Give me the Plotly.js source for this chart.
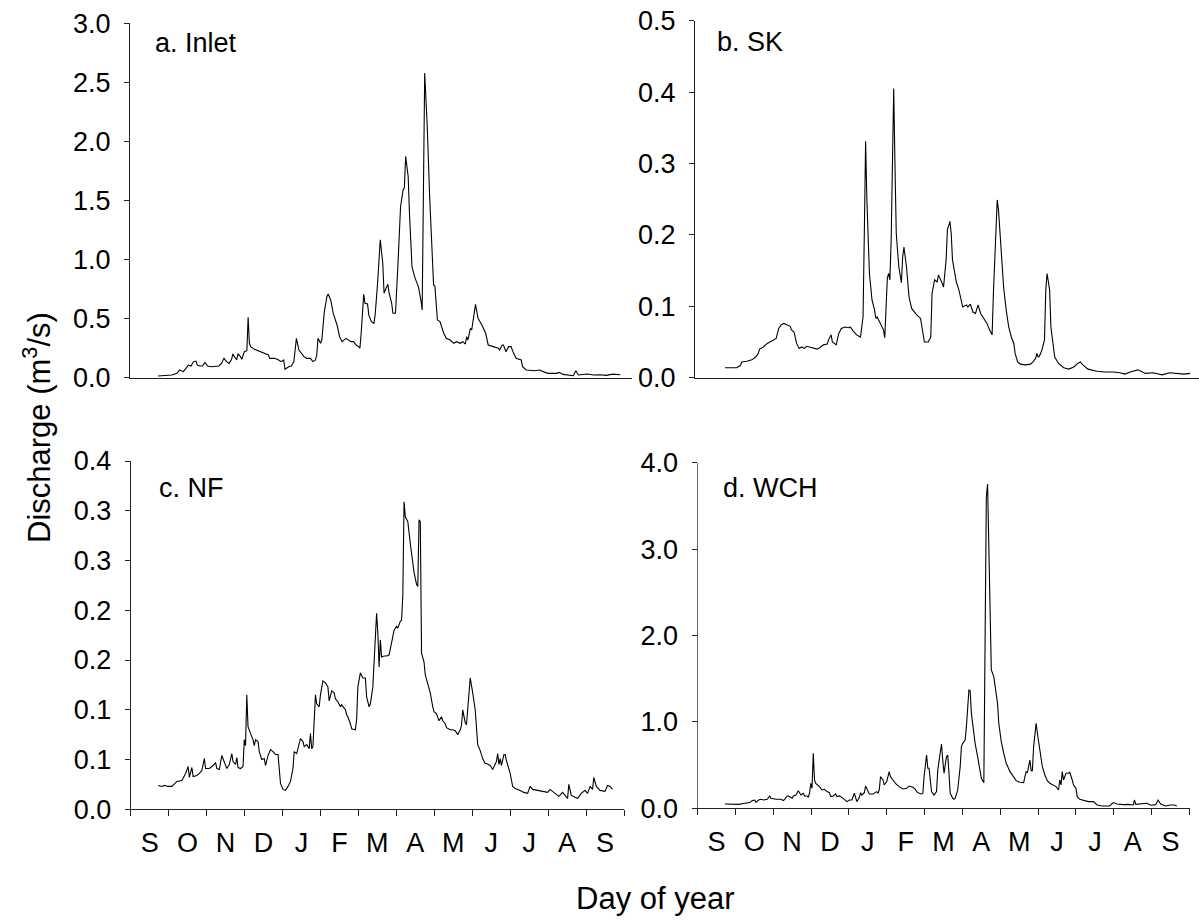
<!DOCTYPE html>
<html>
<head>
<meta charset="utf-8">
<script src="https://cdn.plot.ly/plotly-3.0.1.min.js"></script>
<style>html,body{margin:0;padding:0;background:#fff;}#chart{width:1199px;height:921px;}</style>
</head>
<body>
<div id="chart"></div>
<script>
// ---------------- data (day index from start of axis, discharge m3/s) ----------------
const months = ['S','O','N','D','J','F','M','A','M','J','J','A','S'];
const monthLen = 30.4;

const inletDay = [22,33,37,39,42,44,46,48,50,52,53,55,57,59,61,64,67,70,72,74,76,78,80,81,83,84,85,87,88,90,92,93,94,95,98,102,106,109,110,112,114,117,119,121,122,125,127,129,131,133,135,137,139,142,144,146,147,148,150,151,153,155,156,158,160,163,165,167,170,172,174,176,178,180,181,182,184,185,187,188,190,192,193,195,197,199,200,201,203,204,206,207,209,211,213,215,216,217,219,220,222,224,227,229,230,232,234,236,238,239,240,242,244,247,249,252,255,257,260,262,264,265,266,268,269,270,272,274,277,280,282,286,290,291,293,294,296,298,300,302,304,308,309,312,318,323,324,329,336,338,341,349,351,353,360,365,370,375,380,386];
const inletQ = [0.014,0.023,0.037,0.065,0.051,0.079,0.107,0.099,0.136,0.141,0.107,0.099,0.099,0.130,0.099,0.093,0.093,0.099,0.121,0.164,0.136,0.121,0.155,0.201,0.164,0.155,0.201,0.178,0.155,0.220,0.229,0.511,0.291,0.263,0.240,0.220,0.206,0.192,0.164,0.164,0.164,0.150,0.136,0.150,0.071,0.093,0.099,0.136,0.333,0.234,0.206,0.178,0.164,0.164,0.136,0.150,0.192,0.333,0.291,0.319,0.559,0.686,0.709,0.658,0.545,0.446,0.347,0.305,0.333,0.319,0.305,0.305,0.277,0.263,0.249,0.376,0.706,0.630,0.624,0.531,0.475,0.460,0.531,0.814,1.167,0.969,0.715,0.743,0.791,0.715,0.630,0.545,0.545,0.969,1.449,1.590,1.610,1.873,1.703,1.393,0.941,0.856,0.771,0.658,0.573,2.579,2.127,1.506,0.997,0.785,0.777,0.489,0.475,0.376,0.333,0.319,0.291,0.305,0.291,0.305,0.285,0.347,0.319,0.418,0.404,0.475,0.621,0.503,0.446,0.376,0.277,0.263,0.249,0.234,0.277,0.277,0.220,0.263,0.263,0.206,0.164,0.150,0.093,0.065,0.059,0.065,0.056,0.037,0.037,0.045,0.028,0.017,0.059,0.023,0.031,0.023,0.025,0.020,0.030,0.025];

const skDay = [22,26,31,34,35,39,43,46,48,49,52,55,57,60,62,64,66,68,70,73,74,76,78,80,82,84,86,90,94,96,99,102,103,105,106,109,111,113,116,119,120,122,125,128,130,131,132,133,135,137,139,140,141,143,145,146,147,148,149,150,151,152,153,154,155,156,158,159,160,161,162,164,166,168,171,172,175,177,178,181,183,184,186,188,189,192,193,195,196,198,199,200,202,203,205,207,208,211,212,214,216,218,220,222,224,225,227,229,231,232,234,235,236,238,240,242,244,246,248,249,251,253,257,261,263,265,266,267,268,270,272,273,274,276,277,279,280,283,287,291,295,298,300,302,306,313,319,326,331,335,339,345,351,357,364,370,375,381,386];
const skQ = [0.014,0.014,0.014,0.017,0.022,0.023,0.025,0.029,0.034,0.040,0.043,0.048,0.050,0.053,0.055,0.069,0.074,0.076,0.074,0.072,0.067,0.064,0.048,0.041,0.043,0.041,0.044,0.042,0.040,0.042,0.046,0.047,0.053,0.060,0.050,0.046,0.062,0.069,0.071,0.070,0.071,0.066,0.060,0.057,0.085,0.202,0.331,0.249,0.146,0.109,0.095,0.083,0.085,0.078,0.071,0.067,0.056,0.099,0.139,0.146,0.137,0.193,0.319,0.405,0.296,0.202,0.155,0.141,0.133,0.169,0.183,0.155,0.113,0.097,0.090,0.088,0.083,0.057,0.050,0.050,0.057,0.118,0.137,0.134,0.144,0.132,0.127,0.165,0.207,0.219,0.202,0.165,0.146,0.134,0.123,0.109,0.099,0.102,0.099,0.103,0.092,0.090,0.102,0.090,0.085,0.081,0.076,0.067,0.060,0.118,0.202,0.249,0.235,0.174,0.127,0.095,0.071,0.057,0.048,0.034,0.022,0.019,0.018,0.019,0.022,0.027,0.034,0.029,0.030,0.039,0.053,0.123,0.146,0.123,0.071,0.043,0.029,0.020,0.014,0.012,0.015,0.020,0.022,0.018,0.012,0.009,0.008,0.008,0.007,0.005,0.008,0.011,0.006,0.007,0.004,0.007,0.006,0.005,0.006];

const nfDay = [22,25,27,30,33,35,37,41,42,44,46,47,49,50,53,55,57,59,60,63,66,68,69,71,73,75,77,79,81,82,84,85,86,88,90,91,92,93,94,96,98,99,100,102,103,105,107,108,110,112,114,116,118,119,120,122,124,126,128,130,131,133,135,136,138,139,141,143,144,145,146,148,149,151,152,154,156,158,159,161,163,164,166,168,169,172,173,174,176,177,180,181,182,184,186,188,189,191,192,194,195,197,198,199,200,201,203,205,207,209,211,213,214,216,217,218,219,220,222,224,226,227,229,230,231,232,233,235,236,238,240,242,243,245,246,247,249,250,252,253,256,258,260,261,262,264,265,266,268,269,271,272,274,275,276,278,280,282,284,285,288,290,292,293,294,295,296,297,299,300,301,303,304,306,308,312,315,318,320,322,326,330,334,336,340,343,346,349,350,351,353,356,358,361,364,366,368,370,371,373,376,380,382,384,386];
const nfQ = [0.024,0.023,0.024,0.023,0.023,0.026,0.028,0.029,0.031,0.036,0.043,0.032,0.042,0.033,0.034,0.036,0.039,0.051,0.041,0.041,0.044,0.047,0.041,0.040,0.054,0.047,0.041,0.045,0.056,0.048,0.045,0.052,0.042,0.041,0.043,0.070,0.064,0.115,0.083,0.076,0.070,0.064,0.070,0.068,0.058,0.050,0.051,0.044,0.054,0.060,0.058,0.055,0.055,0.041,0.026,0.020,0.019,0.023,0.028,0.041,0.058,0.056,0.066,0.071,0.068,0.063,0.065,0.061,0.076,0.061,0.063,0.115,0.106,0.103,0.115,0.129,0.127,0.123,0.109,0.119,0.117,0.111,0.108,0.103,0.105,0.100,0.095,0.093,0.086,0.081,0.080,0.090,0.123,0.137,0.132,0.132,0.113,0.103,0.106,0.123,0.148,0.197,0.177,0.143,0.170,0.153,0.154,0.154,0.155,0.167,0.180,0.184,0.182,0.189,0.190,0.215,0.309,0.294,0.289,0.267,0.249,0.238,0.226,0.224,0.291,0.289,0.157,0.148,0.135,0.125,0.117,0.103,0.098,0.096,0.091,0.089,0.093,0.089,0.086,0.082,0.080,0.080,0.079,0.077,0.075,0.080,0.084,0.100,0.087,0.085,0.117,0.132,0.117,0.106,0.100,0.065,0.059,0.051,0.046,0.046,0.044,0.040,0.045,0.048,0.056,0.045,0.051,0.044,0.055,0.055,0.049,0.041,0.036,0.023,0.021,0.019,0.017,0.016,0.023,0.020,0.019,0.018,0.017,0.020,0.016,0.013,0.017,0.013,0.011,0.025,0.014,0.012,0.011,0.016,0.019,0.016,0.023,0.020,0.032,0.023,0.019,0.018,0.024,0.023,0.020];

const wchDay = [22,28,33,38,42,44,46,47,49,51,53,56,58,59,63,67,69,70,72,73,76,77,79,81,83,85,86,88,89,90,91,92,93,94,95,98,100,102,104,106,107,109,111,112,114,116,118,120,122,124,126,127,128,130,131,132,134,135,137,138,141,143,144,145,146,147,149,150,152,154,155,157,159,162,165,168,170,173,175,176,178,180,181,182,184,185,186,187,188,190,192,193,195,196,197,198,200,201,202,203,205,206,207,209,211,212,213,215,216,217,218,219,220,222,223,225,227,228,230,232,233,234,235,236,238,239,241,242,244,246,248,251,254,256,259,262,263,264,265,267,268,269,270,272,273,275,277,279,281,283,286,288,290,291,292,293,294,296,298,299,301,302,304,305,307,310,314,318,321,325,331,334,337,342,346,350,351,352,357,361,364,368,370,372,376,380,383,385];
const wchQ = [0.050,0.050,0.046,0.058,0.066,0.089,0.096,0.069,0.096,0.104,0.096,0.104,0.143,0.116,0.104,0.104,0.089,0.104,0.143,0.143,0.116,0.143,0.154,0.204,0.154,0.174,0.143,0.143,0.127,0.174,0.289,0.231,0.636,0.328,0.289,0.251,0.212,0.220,0.193,0.181,0.135,0.143,0.166,0.135,0.143,0.127,0.104,0.077,0.096,0.096,0.174,0.104,0.077,0.127,0.181,0.154,0.181,0.258,0.204,0.166,0.166,0.181,0.193,0.174,0.212,0.366,0.328,0.270,0.309,0.424,0.366,0.328,0.289,0.251,0.224,0.231,0.258,0.243,0.220,0.193,0.174,0.166,0.174,0.366,0.617,0.463,0.463,0.328,0.193,0.154,0.193,0.444,0.675,0.744,0.559,0.405,0.598,0.617,0.405,0.174,0.116,0.104,0.116,0.212,0.482,0.714,0.752,0.791,0.945,1.176,1.369,1.362,1.099,0.868,0.752,0.598,0.444,0.347,0.297,3.600,3.753,2.874,2.141,1.601,1.524,1.408,1.215,0.984,0.771,0.636,0.521,0.424,0.359,0.320,0.301,0.297,0.366,0.424,0.413,0.559,0.436,0.436,0.714,0.984,0.868,0.656,0.482,0.386,0.320,0.289,0.270,0.251,0.212,0.328,0.270,0.424,0.328,0.405,0.405,0.417,0.328,0.270,0.231,0.135,0.104,0.089,0.077,0.077,0.039,0.027,0.027,0.066,0.050,0.042,0.046,0.039,0.096,0.046,0.050,0.058,0.035,0.042,0.096,0.050,0.027,0.039,0.039,0.027];

const panelLabels = ['a. Inlet','b. SK','c. NF','d. WCH'];
const nfTickVals = [0,0.05,0.10,0.15,0.20,0.25,0.30,0.35];
const nfTickText = ['0.0','0.1','0.1','0.2','0.2','0.3','0.3','0.4'];

// ---------------- layout helpers ----------------
const W = 1199, H = 921;
const px = v => v / W;
const py = v => 1 - v / H;
const FONT = 'Liberation Sans, Arial, Helvetica, sans-serif';
const monthCenters = months.map((m, i) => (i + 0.5) * monthLen);
const monthEdges = months.map((m, i) => i * monthLen).concat([months.length * monthLen]);
const xMax = months.length * monthLen;

const lineStyle = {color: '#000', width: 1.1};
function trace(x, y, xa, ya) {
  return {x: x, y: y, xaxis: xa, yaxis: ya, type: 'scatter', mode: 'lines',
          line: lineStyle, hoverinfo: 'skip', showlegend: false};
}
const data = [
  trace(inletDay, inletQ, 'x', 'y'),
  trace(skDay, skQ, 'x2', 'y2'),
  trace(nfDay, nfQ, 'x3', 'y3'),
  trace(wchDay, wchQ, 'x4', 'y4')
];

const tickFont = {family: FONT, size: 27, color: '#000'};
const labelFont = {family: FONT, size: 27, color: '#000'};
const titleFont = {family: FONT, size: 31, color: '#000'};
function yAxis(domain, range, extra) {
  return Object.assign({
    domain: domain, range: range, showline: true, linecolor: '#222', linewidth: 1,
    ticks: 'outside', ticklen: 5, tickwidth: 1, tickcolor: '#222',
    showgrid: false, zeroline: false, tickfont: tickFont, ticklabelstandoff: 8,
    fixedrange: true, automargin: false
  }, extra || {});
}
function xTop(domain, range, anchor) {
  return {domain: domain, range: range, anchor: anchor, showline: true, linecolor: '#222', linewidth: 1,
          ticks: '', showticklabels: false, showgrid: false, zeroline: false, fixedrange: true, automargin: false};
}
function xBottom(domain, range, anchor) {
  return {domain: domain, range: range, anchor: anchor, showline: true, linecolor: '#222', linewidth: 1,
          tickmode: 'array', tickvals: monthCenters, ticktext: months, ticks: '',
          tickfont: tickFont, ticklabelstandoff: 9,
          minor: {tickmode: 'array', tickvals: monthEdges, ticks: 'outside', ticklen: 6, tickwidth: 1, tickcolor: '#222', showgrid: false},
          showgrid: false, zeroline: false, fixedrange: true, automargin: false};
}

function panelLabel(i, x, y) {
  return {text: panelLabels[i], x: px(x), y: py(y), xref: 'paper', yref: 'paper',
          xanchor: 'left', yanchor: 'middle', showarrow: false, font: labelFont};
}

const layout = {
  width: W, height: H,
  margin: {l: 0, r: 0, t: 0, b: 0},
  paper_bgcolor: '#fff', plot_bgcolor: 'rgba(0,0,0,0)',
  showlegend: false,
  font: {family: FONT, color: '#000'},
  xaxis:  xTop([px(130), px(632)], [0, xMax], 'y'),
  yaxis:  yAxis([py(377.7), py(23.3)], [0, 3.0], {anchor: 'x', tickmode: 'linear', tick0: 0, dtick: 0.5, tickformat: '.1f'}),
  xaxis2: xTop([px(695), 1], [-1.5, 392.9], 'y2'),
  yaxis2: yAxis([py(377.7), py(20.7)], [0, 0.5], {anchor: 'x2', tickmode: 'linear', tick0: 0, dtick: 0.1, tickformat: '.1f'}),
  xaxis3: xBottom([px(130.7), px(624)], [0, xMax], 'y3'),
  yaxis3: yAxis([py(809.3), py(461)], [0, 0.35], {anchor: 'x3', tickmode: 'array', tickvals: nfTickVals, ticktext: nfTickText}),
  xaxis4: xBottom([px(697.5), px(1189.5)], [0, xMax], 'y4'),
  yaxis4: yAxis([py(808.3), py(462.7)], [0, 4.0], {anchor: 'x4', tickmode: 'linear', tick0: 0, dtick: 1, tickformat: '.1f', linecolor: '#666'}),
  annotations: [
    panelLabel(0, 153, 42.5),
    panelLabel(1, 715, 41.7),
    panelLabel(2, 157, 488),
    panelLabel(3, 721, 488),
    {text: 'Discharge (m<sup>3</sup>/s)', x: px(37), y: py(428), xref: 'paper', yref: 'paper', xanchor: 'center', yanchor: 'middle', textangle: -90, showarrow: false, font: titleFont},
    {text: 'Day of year', x: px(655), y: py(898), xref: 'paper', yref: 'paper', xanchor: 'center', yanchor: 'middle', showarrow: false, font: titleFont}
  ]
};

Plotly.newPlot('chart', data, layout, {displayModeBar: false, staticPlot: true});
</script>
</body>
</html>
